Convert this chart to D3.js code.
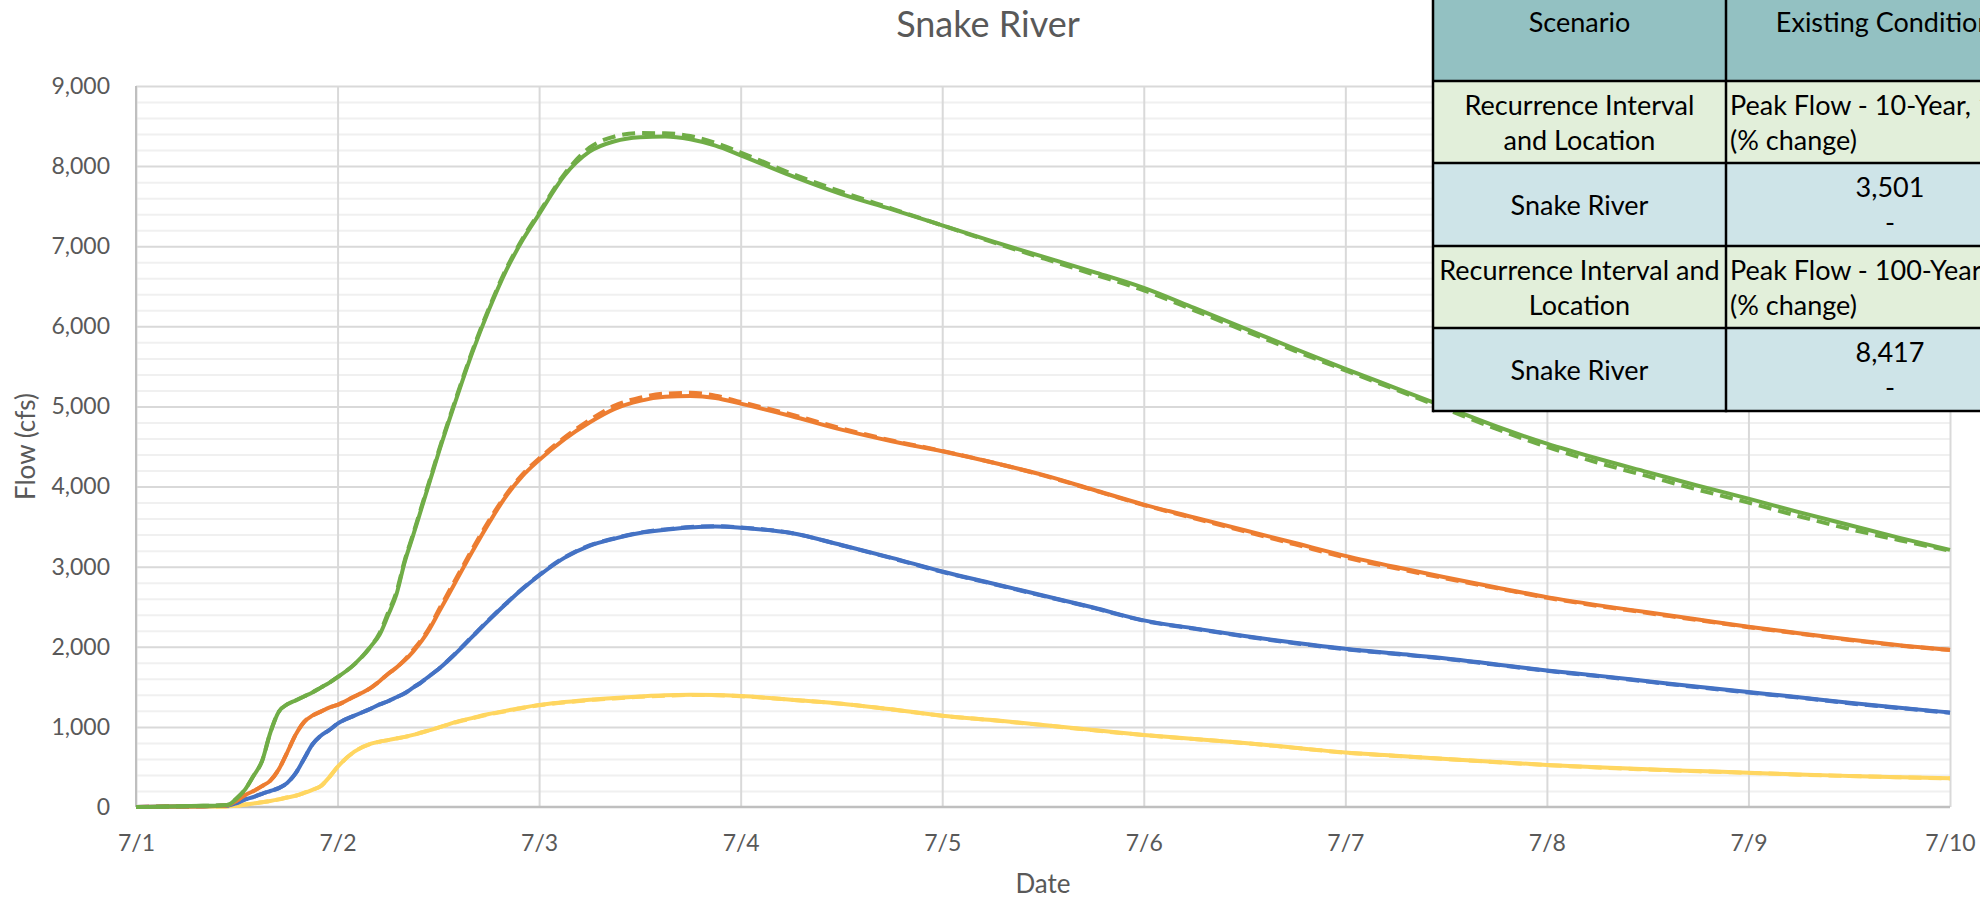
<!DOCTYPE html>
<html>
<head>
<meta charset="utf-8">
<script src="https://cdn.jsdelivr.net/npm/d3@7"></script>
<style>
  html, body { margin: 0; padding: 0; background: #ffffff; }
  svg { display: block; font-family: Lato, "Noto Sans", "DejaVu Sans", sans-serif; }
</style>
</head>
<body>
<svg id="chart" width="1980" height="900"></svg>
<script>
// ---------------- DATA ----------------
const chartTitle = "Snake River";
const xAxisTitle = "Date";
const yAxisTitle = "Flow (cfs)";
const dateLabels = ["7/1", "7/2", "7/3", "7/4", "7/5", "7/6", "7/7", "7/8", "7/9", "7/10"];
const yTickValues = [0, 1000, 2000, 3000, 4000, 5000, 6000, 7000, 8000, 9000];

// hours since 7/1 00:00
const hours = [0, 4, 8, 10, 11, 12, 13, 14, 15, 16, 17, 18, 19, 20, 21, 22, 23, 24, 26, 28, 29, 30, 31, 32, 33, 34, 35, 36, 38, 40, 42, 44, 46, 48, 51, 54, 57, 60, 63, 66, 69, 72, 78, 84, 90, 96, 102, 108, 114, 120, 126, 132, 138, 144, 150, 156, 162, 168, 174, 180, 186, 192, 198, 204, 210, 216];

const yellowSolid = [0, 0, 3, 5, 8, 15, 30, 45, 58, 75, 95, 118, 140, 175, 215, 260, 370, 500, 690, 790, 815, 835, 855, 875, 900, 930, 960, 990, 1060, 1110, 1160, 1200, 1240, 1275, 1310, 1340, 1362, 1380, 1395, 1400, 1398, 1385, 1340, 1290, 1220, 1140, 1085, 1025, 960, 900, 850, 800, 740, 680, 640, 600, 562, 525, 495, 470, 448, 428, 405, 388, 372, 358];
const yellowDashed = [0, 0, 3, 5, 8, 15, 30, 45, 58, 75, 95, 118, 140, 175, 215, 260, 370, 500, 690, 790, 815, 835, 855, 875, 900, 930, 960, 990, 1055, 1105, 1155, 1195, 1235, 1270, 1305, 1335, 1355, 1375, 1390, 1398, 1396, 1383, 1338, 1288, 1218, 1138, 1083, 1022, 958, 898, 848, 798, 738, 678, 638, 598, 560, 523, 493, 468, 446, 426, 404, 387, 371, 357];
const blueSolid = [0, 5, 10, 15, 20, 50, 95, 125, 165, 200, 235, 300, 420, 600, 780, 890, 960, 1040, 1140, 1230, 1280, 1320, 1370, 1420, 1490, 1560, 1640, 1720, 1910, 2120, 2330, 2530, 2720, 2890, 3110, 3260, 3350, 3420, 3460, 3490, 3500, 3485, 3420, 3270, 3110, 2940, 2790, 2640, 2490, 2330, 2230, 2135, 2050, 1975, 1915, 1855, 1780, 1705, 1640, 1570, 1500, 1435, 1370, 1300, 1240, 1179];
const blueDashed = [0, 5, 10, 15, 20, 50, 95, 125, 165, 200, 235, 300, 420, 600, 780, 890, 960, 1040, 1140, 1230, 1280, 1320, 1370, 1420, 1490, 1560, 1640, 1720, 1915, 2125, 2335, 2535, 2725, 2895, 3115, 3265, 3355, 3425, 3465, 3495, 3505, 3490, 3420, 3268, 3105, 2935, 2785, 2635, 2485, 2325, 2225, 2130, 2045, 1970, 1910, 1850, 1775, 1700, 1635, 1565, 1495, 1430, 1365, 1295, 1235, 1175];
const orangeSolid = [0, 5, 10, 15, 25, 80, 150, 200, 260, 330, 470, 680, 900, 1060, 1140, 1190, 1240, 1275, 1380, 1490, 1570, 1660, 1740, 1830, 1940, 2070, 2230, 2420, 2800, 3180, 3540, 3870, 4130, 4330, 4590, 4800, 4970, 5070, 5120, 5130, 5105, 5035, 4880, 4710, 4565, 4440, 4300, 4145, 3960, 3775, 3615, 3455, 3295, 3135, 2995, 2865, 2740, 2620, 2520, 2430, 2340, 2250, 2170, 2090, 2020, 1962];
const orangeDashed = [0, 5, 10, 15, 25, 80, 150, 200, 260, 330, 470, 680, 900, 1060, 1140, 1190, 1240, 1275, 1380, 1490, 1570, 1660, 1740, 1840, 1960, 2090, 2250, 2450, 2830, 3210, 3570, 3890, 4150, 4350, 4610, 4830, 5010, 5110, 5160, 5170, 5135, 5055, 4900, 4725, 4575, 4445, 4300, 4140, 3955, 3770, 3605, 3440, 3278, 3115, 2980, 2852, 2732, 2612, 2512, 2422, 2332, 2245, 2165, 2085, 2015, 1960];
const greenSolid = [0, 5, 15, 20, 30, 110, 220, 390, 570, 930, 1190, 1280, 1330, 1380, 1430, 1490, 1550, 1620, 1780, 2010, 2150, 2390, 2650, 3060, 3390, 3730, 4070, 4410, 5050, 5660, 6200, 6680, 7070, 7400, 7880, 8180, 8310, 8360, 8370, 8335, 8255, 8135, 7880, 7650, 7460, 7260, 7060, 6870, 6680, 6480, 6230, 5975, 5720, 5470, 5230, 4990, 4750, 4535, 4350, 4180, 4010, 3850, 3680, 3520, 3360, 3210];
const greenDashed = [0, 5, 15, 20, 30, 110, 220, 390, 570, 930, 1190, 1280, 1330, 1380, 1430, 1490, 1550, 1620, 1780, 2010, 2170, 2420, 2680, 3080, 3410, 3750, 4090, 4430, 5070, 5680, 6220, 6700, 7090, 7420, 7900, 8230, 8370, 8412, 8410, 8375, 8290, 8170, 7910, 7680, 7470, 7260, 7050, 6850, 6650, 6450, 6200, 5945, 5695, 5450, 5210, 4965, 4720, 4495, 4300, 4130, 3960, 3800, 3630, 3470, 3330, 3200];

const seriesNames = ["yellowSolid", "yellowDashed", "blueSolid", "blueDashed", "orangeSolid", "orangeDashed", "greenSolid", "greenDashed"];
const seriesValues = [yellowSolid, yellowDashed, blueSolid, blueDashed, orangeSolid, orangeDashed, greenSolid, greenDashed];
const seriesColors = ["#FFD660", "#FFD660", "#4472C4", "#4472C4", "#ED7D31", "#ED7D31", "#70AD47", "#70AD47"];
const seriesDashed = [false, true, false, true, false, true, false, true];

// table (overlay, top right)
const tableHeader = ["Scenario", "Existing Conditions"];
const tableLeftCol = [["Recurrence Interval", "and Location"], ["Snake River"], ["Recurrence Interval and", "Location"], ["Snake River"]];
const tableRightCol = [["Peak Flow - 10-Year, 1-Day (cfs)", "(% change)"], ["3,501", "-"], ["Peak Flow - 100-Year, 1-Day (cfs)", "(% change)"], ["8,417", "-"]];
const tableRowKinds = ["label", "value", "label", "value"];

// ---------------- LAYOUT ----------------
const svg = d3.select("#chart");
const W = 1980, H = 900;
const plot = { left: 136, right: 1950, top: 86, bottom: 807 };

const x = d3.scaleLinear().domain([0, 216]).range([plot.left, plot.right]);
const y = d3.scaleLinear().domain([0, 9000]).range([plot.bottom, plot.top]);

const gridG = svg.append("g");

// minor horizontal gridlines (every 200)
const minorTicks = d3.range(0, 9001, 200).filter(v => v % 1000 !== 0);
gridG.append("g")
  .attr("transform", `translate(${plot.left},0)`)
  .call(d3.axisLeft(y).tickValues(minorTicks).tickSize(-(plot.right - plot.left)).tickFormat(""))
  .call(g => g.select(".domain").remove())
  .call(g => g.selectAll("line").attr("stroke", "#f0f0f0").attr("stroke-width", 2));

// major horizontal gridlines
gridG.append("g")
  .attr("transform", `translate(${plot.left},0)`)
  .call(d3.axisLeft(y).tickValues(yTickValues.filter(v => v > 0)).tickSize(-(plot.right - plot.left)).tickFormat(""))
  .call(g => g.select(".domain").remove())
  .call(g => g.selectAll("line").attr("stroke", "#d9d9d9").attr("stroke-width", 2));

// vertical day gridlines
const dayTicks = dateLabels.map((d, i) => i * 24);
gridG.append("g")
  .attr("transform", `translate(0,${plot.bottom})`)
  .call(d3.axisBottom(x).tickValues(dayTicks).tickSize(-(plot.bottom - plot.top)).tickFormat(""))
  .call(g => g.select(".domain").remove())
  .call(g => g.selectAll("line").attr("stroke", "#d9d9d9").attr("stroke-width", 2));

// axis lines
svg.append("line").attr("x1", plot.left).attr("x2", plot.left).attr("y1", plot.top).attr("y2", plot.bottom)
  .attr("stroke", "#bfbfbf").attr("stroke-width", 2);
svg.append("line").attr("x1", plot.left).attr("x2", plot.right).attr("y1", plot.bottom).attr("y2", plot.bottom)
  .attr("stroke", "#bfbfbf").attr("stroke-width", 2.5);

// y axis labels
svg.append("g")
  .attr("transform", `translate(${plot.left},0)`)
  .call(d3.axisLeft(y).tickValues(yTickValues).tickSize(0).tickPadding(26).tickFormat(d3.format(",")))
  .call(g => g.select(".domain").remove())
  .call(g => g.selectAll("text").attr("font-size", 23).attr("fill", "#595959").attr("font-family", "Lato, sans-serif"));

// x axis labels
svg.append("g")
  .attr("transform", `translate(0,${plot.bottom})`)
  .call(d3.axisBottom(x).tickValues(dayTicks).tickSize(0).tickPadding(28).tickFormat((d, i) => dateLabels[i]))
  .call(g => g.select(".domain").remove())
  .call(g => g.selectAll("text").attr("font-size", 23).attr("fill", "#595959").attr("font-family", "Lato, sans-serif"));

// lines
const line = d3.line()
  .x((d, i) => x(hours[i]))
  .y(d => y(d))
  .curve(d3.curveMonotoneX);

const linesG = svg.append("g");
seriesValues.forEach((vals, k) => {
  linesG.append("path")
    .datum(vals)
    .attr("class", "series " + seriesNames[k])
    .attr("d", line)
    .attr("fill", "none")
    .attr("stroke", seriesColors[k])
    .attr("stroke-width", 4)
    .attr("stroke-linejoin", "round")
    .attr("stroke-dasharray", seriesDashed[k] ? "13,7" : null);
});

// titles
svg.append("text").attr("x", 988).attr("y", 37).attr("text-anchor", "middle")
  .attr("font-size", 36).attr("fill", "#595959").text(chartTitle);
svg.append("text").attr("x", (plot.left + plot.right) / 2).attr("y", 893).attr("text-anchor", "middle")
  .attr("font-size", 26).attr("fill", "#595959").text(xAxisTitle);
svg.append("text").attr("transform", `translate(35,${(plot.top + plot.bottom) / 2}) rotate(-90)`)
  .attr("text-anchor", "middle").attr("font-size", 26).attr("fill", "#595959").text(yAxisTitle);

// ---------------- TABLE ----------------
svg.append("defs").append("clipPath").attr("id", "pageClip")
  .append("rect").attr("x", 0).attr("y", 0).attr("width", W).attr("height", H);

const tbl = svg.append("g").attr("clip-path", "url(#pageClip)");
const tX0 = 1433, tX1 = 1726, tX2 = 2054;
const rowEdges = [0, 81, 163, 246, 328, 411];
const headerFill = "#93C1C2", labelFill = "#E2EFDA", valueFill = "#CEE4E8";
const fs = 27, lh = 35;

// backgrounds
tbl.append("rect").attr("x", tX0).attr("y", rowEdges[0]).attr("width", tX2 - tX0).attr("height", rowEdges[1] - rowEdges[0]).attr("fill", headerFill);
tableRowKinds.forEach((kind, r) => {
  tbl.append("rect").attr("x", tX0).attr("y", rowEdges[r + 1]).attr("width", tX2 - tX0)
    .attr("height", rowEdges[r + 2] - rowEdges[r + 1]).attr("fill", kind === "label" ? labelFill : valueFill);
});

// text
const c1 = (tX0 + tX1) / 2, c2 = 1890;
tbl.append("text").attr("x", c1).attr("y", 32).attr("text-anchor", "middle").attr("font-size", fs).attr("fill", "#000").text(tableHeader[0]);
tbl.append("text").attr("x", c2).attr("y", 32).attr("text-anchor", "middle").attr("font-size", fs).attr("fill", "#000").text(tableHeader[1]);

tableRowKinds.forEach((kind, r) => {
  const top = rowEdges[r + 1], bot = rowEdges[r + 2];
  const mid = (top + bot) / 2;
  const left = tableLeftCol[r];
  left.forEach((t, j) => {
    const base = mid + (j - (left.length - 1) / 2) * lh + 10;
    tbl.append("text").attr("x", c1).attr("y", base).attr("text-anchor", "middle")
      .attr("font-size", fs).attr("fill", "#000").text(t);
  });
  const right = tableRightCol[r];
  right.forEach((t, j) => {
    const base = mid + (j - (right.length - 1) / 2) * lh + 10;
    tbl.append("text")
      .attr("x", kind === "label" ? tX1 + 4 : c2)
      .attr("y", base)
      .attr("text-anchor", kind === "label" ? "start" : "middle")
      .attr("font-size", fs).attr("fill", "#000").text(t);
  });
});

// borders
const bw = 2.5;
rowEdges.slice(1).forEach(e => {
  tbl.append("line").attr("x1", tX0).attr("x2", tX2).attr("y1", e).attr("y2", e).attr("stroke", "#000").attr("stroke-width", bw);
});
[tX0, tX1].forEach(xx => {
  tbl.append("line").attr("x1", xx).attr("x2", xx).attr("y1", 0).attr("y2", rowEdges[rowEdges.length - 1] + bw / 2).attr("stroke", "#000").attr("stroke-width", bw);
});
</script>
</body>
</html>
